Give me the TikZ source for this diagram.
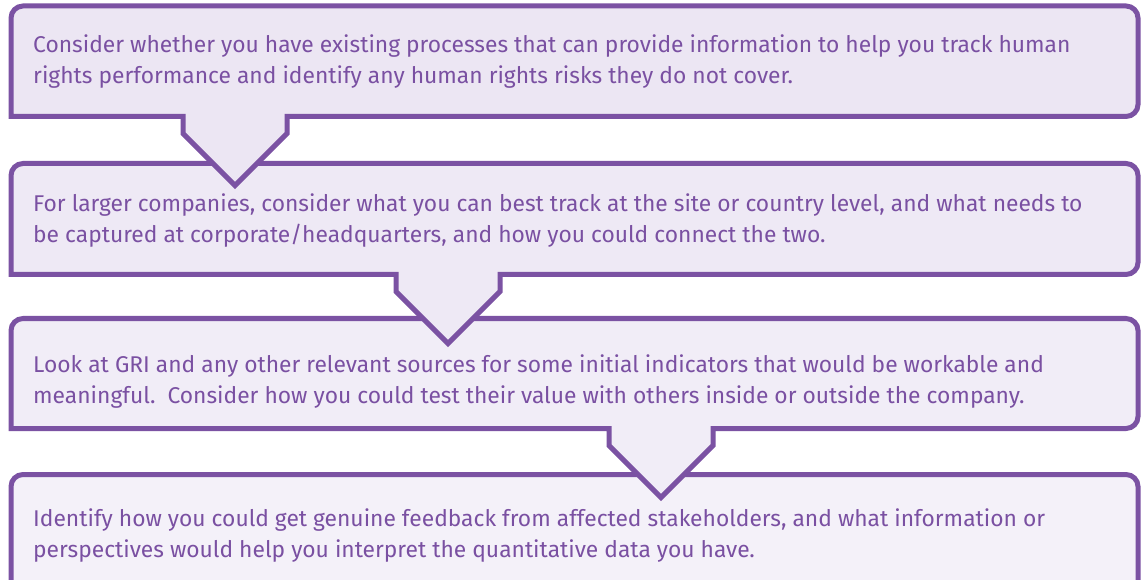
\documentclass[tikz,border=0pt]{standalone}
\usepackage{fontspec}
\setmainfont{Fira Sans}
\definecolor{pborder}{HTML}{7B52A3}
\definecolor{ptext}{HTML}{7A50A2}
\definecolor{fillA}{HTML}{ECE6F3}
\definecolor{fillB}{HTML}{EEE9F5}
\definecolor{fillC}{HTML}{F1EDF7}
\definecolor{fillD}{HTML}{F4F1F9}
\tikzset{
  boxline/.style={draw=pborder, line width=5pt, line join=miter},
  boxtext/.style={anchor=base west, inner sep=0pt, align=left, text=ptext,
    font=\fontsize{22.8}{31}\selectfont}
}
% #1 top, #2 bottom, #3 notch centre, #4 fill
\newcommand{\boxtop}[1]{(11,#1+12) .. controls (11,#1+5.37) and (16.37,#1) .. (23,#1)
    -- (1126,#1) .. controls (1132.63,#1) and (1138,#1+5.37) .. (1138,#1+12)}
\newcommand{\calloutbox}[4]{%
  \draw[boxline, fill=#4] (11,#2) -- \boxtop{#1}
    -- (1138,#2-12) .. controls (1138,#2-5.37) and (1132.63,#2) .. (1126,#2)
    -- (#3+52,#2) -- (#3+52,#2+17) -- (#3,#2+69) -- (#3-52,#2+17) -- (#3-52,#2) -- cycle;}
\newcommand{\plainbox}[3]{%
  \draw[boxline, fill=#3] (11,#2) -- \boxtop{#1}
    -- (1138,#2-12) .. controls (1138,#2-5.37) and (1132.63,#2) .. (1126,#2) -- cycle;}
\begin{document}
\begin{tikzpicture}[x=1pt,y=-1pt]
\useasboundingbox (0,0) rectangle (1144,580);
\begin{scope}
\clip (0,0) rectangle (1144,580);
\plainbox{474.5}{600}{fillD}
\calloutbox{318.5}{428.5}{661}{fillC}
\calloutbox{163.5}{274.5}{448}{fillB}
\calloutbox{6}{116.5}{235}{fillA}
\end{scope}
\node[boxtext] (t1) at (33,84) {Consider whether you have existing processes that can provide information to help you track human\\rights performance and identify any human rights risks they do not cover.};
\node[boxtext] (t2) at (33,243) {For larger companies, consider what you can best track at the site or country level, and what needs to\\be captured at corporate/headquarters, and how you could connect the two.};
\node[boxtext] (t3) at (33,403) {Look at GRI and any other relevant sources for some initial indicators that would be workable and\\meaningful.\ \ Consider how you could test their value with others inside or outside the company.};
\node[boxtext] (t4) at (33,557) {Identify how you could get genuine feedback from affected stakeholders, and what information or\\perspectives would help you interpret the quantitative data you have.};
\end{tikzpicture}
\end{document}
